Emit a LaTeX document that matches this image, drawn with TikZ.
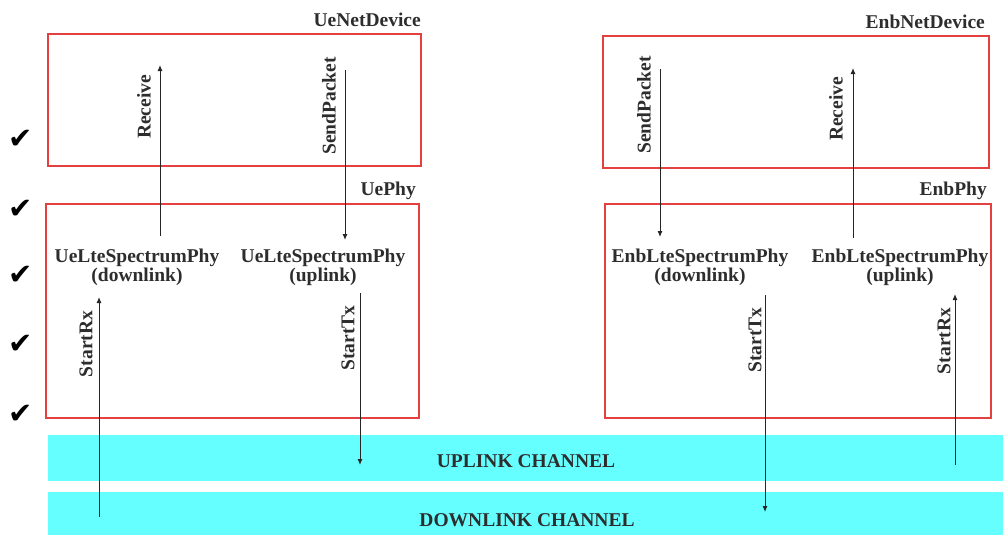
\documentclass[tikz,border=0pt]{standalone}
\usepackage{fontspec}
\setmainfont{Liberation Serif}
\newfontfamily\symfont{DejaVu Sans}
\usetikzlibrary{arrows.meta}
\definecolor{boxred}{RGB}{228,64,64}
\definecolor{chan}{RGB}{102,255,255}
\definecolor{txt}{RGB}{45,45,45}
\begin{document}
\begin{tikzpicture}[x=1pt,y=-1pt,
  layer/.style={draw=boxred,line width=1.2pt},
  band/.style={fill=chan,draw=none},
  lbl/.style={font=\fontsize{19.5}{21}\selectfont\bfseries,text=txt,inner sep=0pt},
  vlbl/.style={lbl,rotate=90},
  phy/.style={lbl,align=center,font=\fontsize{19.5}{19}\selectfont\bfseries},
  arr/.style={draw=black!85,line width=1pt,-{Latex[length=6pt,width=5pt]}},
  chk/.style={font=\symfont\fontsize{29}{29}\selectfont,inner sep=0pt}]
\useasboundingbox (0,0) rectangle (1003,535);
% channels
\fill[band] (48,435) rectangle (1003,481);
\fill[band] (48,492) rectangle (1003,535);
\node[lbl] (ul) at (526,461) {UPLINK CHANNEL};
\node[lbl] (dl) at (527,520) {DOWNLINK CHANNEL};
% boxes
\draw[layer] (48,34) rectangle (421,166);
\draw[layer] (46,204) rectangle (419,418);
\draw[layer] (603,36) rectangle (989,168);
\draw[layer] (605,204) rectangle (991,418);
\node[lbl,anchor=base east] (uend) at (421,27) {UeNetDevice};
\node[lbl,anchor=base east] (ueph) at (416,195) {UePhy};
\node[lbl,anchor=base east] (enbnd) at (985,29) {EnbNetDevice};
\node[lbl,anchor=base east] (enbph) at (987,195) {EnbPhy};
% phy entities
\node[phy] (uedl) at (137,267) {UeLteSpectrumPhy\\(downlink)};
\node[phy] (ueul) at (323,267) {UeLteSpectrumPhy\\(uplink)};
\node[phy] (enbdl) at (700,267) {EnbLteSpectrumPhy\\(downlink)};
\node[phy] (enbul) at (900,267) {EnbLteSpectrumPhy\\(uplink)};
% arrow endpoints
\coordinate (r1a) at (160,236); \coordinate (r1b) at (160,65);
\coordinate (s1a) at (345,70);  \coordinate (s1b) at (345,240);
\coordinate (rx1a) at (99,517); \coordinate (rx1b) at (99,297);
\coordinate (tx1a) at (360,293); \coordinate (tx1b) at (360,465);
\coordinate (s2a) at (660,69);  \coordinate (s2b) at (660,237);
\coordinate (r2a) at (853,238); \coordinate (r2b) at (853,68);
\coordinate (tx2a) at (765,295); \coordinate (tx2b) at (765,512);
\coordinate (rx2a) at (955,465); \coordinate (rx2b) at (955,294);
\draw[arr] (r1a) -- (r1b);
\draw[arr] (s1a) -- (s1b);
\draw[arr] (rx1a) -- (rx1b);
\draw[arr] (tx1a) -- (tx1b);
\draw[arr] (s2a) -- (s2b);
\draw[arr] (r2a) -- (r2b);
\draw[arr] (tx2a) -- (tx2b);
\draw[arr] (rx2a) -- (rx2b);
% arrow labels
\node[vlbl] (lr1) at (144,107) {Receive};
\node[vlbl] (ls1) at (329,106) {SendPacket};
\node[vlbl] (lrx1) at (86,344) {StartRx};
\node[vlbl] (ltx1) at (348,338) {StartTx};
\node[vlbl] (ls2) at (644,105) {SendPacket};
\node[vlbl] (lr2) at (836,109) {Receive};
\node[vlbl] (ltx2) at (755,340) {StartTx};
\node[vlbl] (lrx2) at (944,341) {StartRx};
% check marks
\node[chk] (c1) at (21,139) {✔};
\node[chk] (c2) at (21,209) {✔};
\node[chk] (c3) at (21,275) {✔};
\node[chk] (c4) at (21,344) {✔};
\node[chk] (c5) at (21,414) {✔};
\end{tikzpicture}
\end{document}
